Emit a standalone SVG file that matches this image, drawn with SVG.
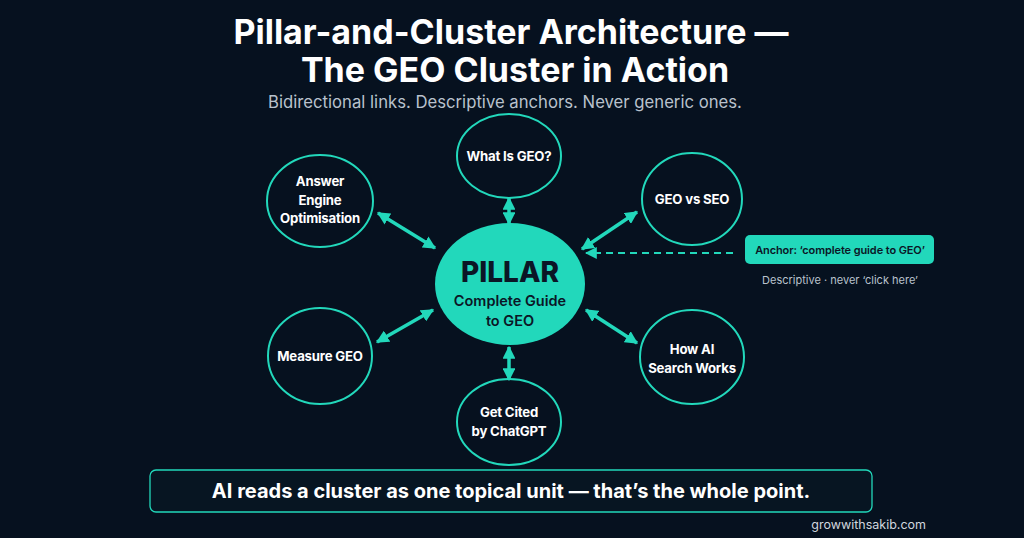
<svg xmlns="http://www.w3.org/2000/svg" width="1024" height="538" viewBox="0 0 1024 538">
<defs>
<style>
.bg{fill:#06111f}
.sat{fill:none;stroke:#22d8bb;stroke-width:2}
.nt{font-family:Inter,"Liberation Sans",sans-serif;font-weight:700;font-size:13.2px;letter-spacing:-0.2px;fill:#ffffff;text-anchor:middle}
.conn{stroke:#22d8bb;stroke-width:3.5;fill:none}
.dash{stroke:#22d8bb;stroke-width:2;fill:none;stroke-dasharray:7 5}
.title{font-family:Inter,"Liberation Sans",sans-serif;font-weight:700;font-size:34px;fill:#ffffff;text-anchor:middle}
.sub{font-family:Inter,"Liberation Sans",sans-serif;font-size:16.7px;fill:#b9c2cd;text-anchor:middle}
</style>
<marker id="ah" viewBox="0 0 10 10" refX="9" refY="5" markerWidth="3.7" markerHeight="3.7" orient="auto-start-reverse" markerUnits="strokeWidth">
<path d="M0,0 L10,5 L0,10 z" fill="#22d8bb"/>
</marker>
<marker id="ahs" viewBox="0 0 10 10" refX="9" refY="5" markerWidth="6" markerHeight="6" orient="auto-start-reverse" markerUnits="strokeWidth">
<path d="M0,0 L10,5 L0,10 z" fill="#22d8bb"/>
</marker>
</defs>
<rect class="bg" x="0" y="0" width="1024" height="538"/>

<g id="title">
<text class="title" x="511" y="44">Pillar-and-Cluster Architecture —</text>
<text class="title" x="515" y="82">The GEO Cluster in Action</text>
<text class="sub" x="505" y="108">Bidirectional links. Descriptive anchors. Never generic ones.</text>
</g>

<g id="connectors">
<line class="conn" x1="509" y1="198" x2="509" y2="224" marker-start="url(#ah)" marker-end="url(#ah)"/>
<line class="conn" x1="378" y1="213" x2="435" y2="248" marker-start="url(#ah)" marker-end="url(#ah)"/>
<line class="conn" x1="637" y1="212" x2="582" y2="249" marker-start="url(#ah)" marker-end="url(#ah)"/>
<line class="conn" x1="377" y1="342" x2="433" y2="310" marker-start="url(#ah)" marker-end="url(#ah)"/>
<line class="conn" x1="586" y1="310" x2="637" y2="343" marker-start="url(#ah)" marker-end="url(#ah)"/>
<line class="conn" x1="509" y1="347" x2="509" y2="380" marker-start="url(#ah)" marker-end="url(#ah)"/>
<line class="dash" x1="733" y1="253" x2="586" y2="253" marker-end="url(#ahs)"/>
</g>

<g id="pillar">
<ellipse cx="510" cy="284" rx="75" ry="61" fill="#22d8bb"/>
<text x="510" y="282" font-family="Inter,'Liberation Sans',sans-serif" font-weight="800" font-size="28" fill="#0b1626" text-anchor="middle">PILLAR</text>
<text x="510" y="306" font-family="Inter,'Liberation Sans',sans-serif" font-weight="600" font-size="14.5" fill="#0b1626" text-anchor="middle">Complete Guide</text>
<text x="510" y="326" font-family="Inter,'Liberation Sans',sans-serif" font-weight="600" font-size="14.5" fill="#0b1626" text-anchor="middle">to GEO</text>
</g>

<g id="what-is-geo">
<ellipse class="sat" cx="509" cy="156" rx="52" ry="42"/>
<text class="nt" x="509" y="161">What Is GEO?</text>
</g>

<g id="aeo">
<ellipse class="sat" cx="320" cy="201" rx="53" ry="46"/>
<text class="nt" x="320" y="186">Answer</text>
<text class="nt" x="320" y="205">Engine</text>
<text class="nt" x="320" y="223">Optimisation</text>
</g>

<g id="geo-vs-seo">
<ellipse class="sat" cx="692" cy="199" rx="50" ry="46"/>
<text class="nt" x="692" y="204">GEO vs SEO</text>
</g>

<g id="measure-geo">
<ellipse class="sat" cx="320" cy="356" rx="52" ry="48"/>
<text class="nt" x="320" y="361">Measure GEO</text>
</g>

<g id="get-cited">
<ellipse class="sat" cx="509" cy="422" rx="52" ry="43"/>
<text class="nt" x="509" y="417">Get Cited</text>
<text class="nt" x="509" y="436">by ChatGPT</text>
</g>

<g id="how-ai">
<ellipse class="sat" cx="692" cy="357" rx="52" ry="47"/>
<text class="nt" x="692" y="354">How AI</text>
<text class="nt" x="692" y="373">Search Works</text>
</g>

<g id="anchor-note">
<rect x="745" y="235" width="189" height="29" rx="5" fill="#22d8bb"/>
<text x="840" y="254" font-family="Inter,'Liberation Sans',sans-serif" font-weight="600" font-size="11" letter-spacing="-0.1" fill="#0b1626" text-anchor="middle">Anchor: ‘complete guide to GEO’</text>
<text x="840" y="284" font-family="Inter,'Liberation Sans',sans-serif" font-size="11" fill="#b9c2cd" text-anchor="middle">Descriptive · never ‘click here’</text>
</g>

<g id="footer">
<rect x="150" y="470" width="722" height="42" rx="6" fill="#071522" stroke="#22d8bb" stroke-width="1.3"/>
<text x="511" y="498" font-family="Inter,'Liberation Sans',sans-serif" font-weight="700" font-size="20" fill="#ffffff" text-anchor="middle">AI reads a cluster as one topical unit — that’s the whole point.</text>
<text x="926" y="529" font-family="Inter,'Liberation Sans',sans-serif" font-size="12.5" fill="#d0d6de" text-anchor="end">growwithsakib.com</text>
</g>
</svg>
